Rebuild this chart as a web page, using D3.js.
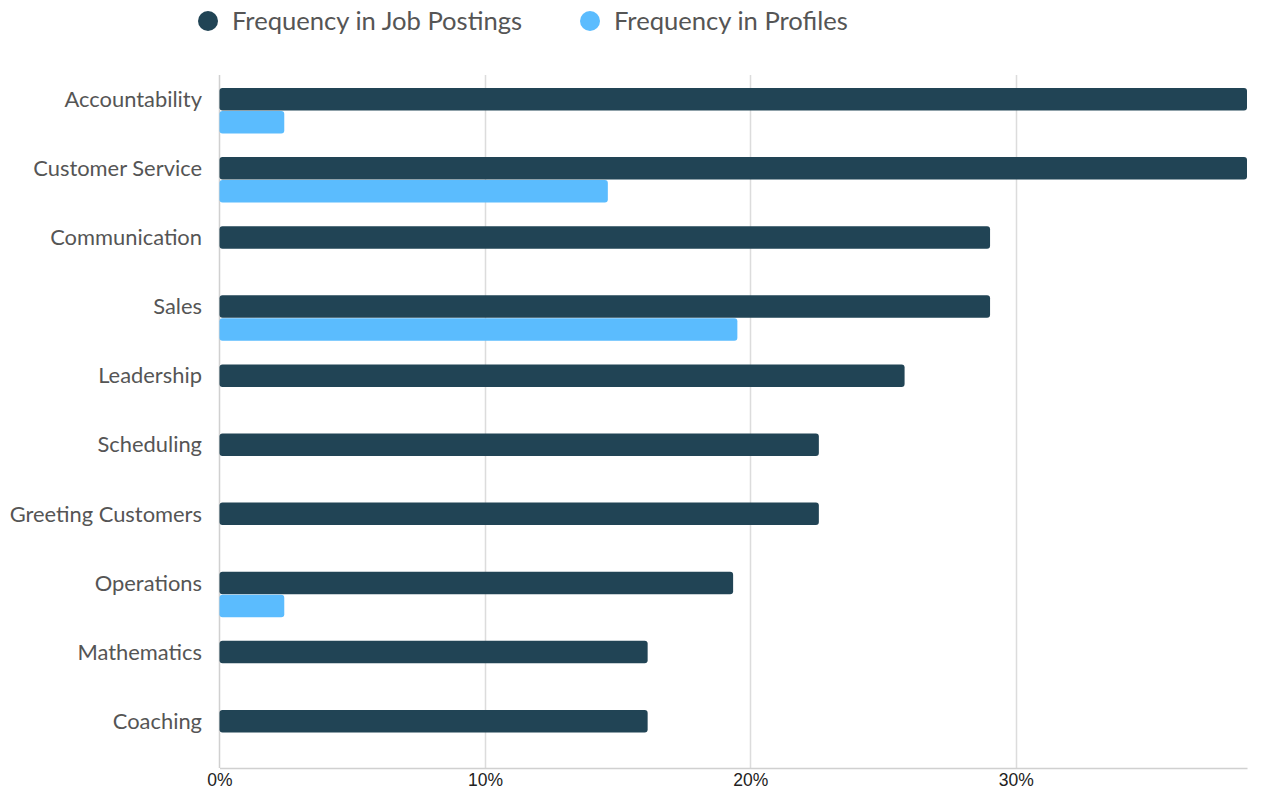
<!DOCTYPE html>
<html><head><meta charset="utf-8">
<script src="https://cdn.jsdelivr.net/npm/d3@7"></script>
<style>
html,body{margin:0;padding:0;background:#fff;}
svg{display:block;}
</style></head>
<body>
<svg id="chart" width="1261" height="794"></svg>
<script>
const categories = ["Accountability","Customer Service","Communication","Sales","Leadership","Scheduling","Greeting Customers","Operations","Mathematics","Coaching"];
const jobPostings = [38.71, 38.71, 29.03, 29.03, 25.81, 22.58, 22.58, 19.35, 16.13, 16.13];
const profiles = [2.44, 14.63, 0, 19.51, 0, 0, 0, 2.44, 0, 0];
const seriesNames = ["Frequency in Job Postings", "Frequency in Profiles"];
const seriesColors = ["#214455", "#5bbcfe"];
const tickValues = [0, 10, 20, 30];

const svg = d3.select("#chart");
const margin = {left: 219.5, right: 14, top: 75, bottom: 26};
const W = 1261, H = 794;
const x = d3.scaleLinear().domain([0, d3.max(jobPostings)]).range([margin.left, W - margin.right]);
const y = d3.scaleBand().domain(categories).range([margin.top, margin.top + 691]).paddingInner(0).paddingOuter(0);
const barH = 22.5;

// grid
svg.append("g").selectAll("line").data(tickValues.filter(d => d > 0)).join("line")
  .attr("x1", d => Math.round(x(d)) + 0.5).attr("x2", d => Math.round(x(d)) + 0.5)
  .attr("y1", margin.top).attr("y2", H - margin.bottom)
  .attr("stroke", "#dcdcdc").attr("stroke-width", 1.5);
// left axis line
svg.append("line").attr("x1", x(0)).attr("x2", x(0)).attr("y1", margin.top).attr("y2", H - margin.bottom)
  .attr("stroke", "#d0d0d0").attr("stroke-width", 1.5);
// bottom axis
const xAxis = d3.axisBottom(x).tickValues(tickValues).tickFormat(d => d + "%").tickSize(0).tickPadding(6);
const gx = svg.append("g").attr("transform", `translate(0,${H - margin.bottom})`).call(xAxis);
gx.select(".domain").attr("stroke", "#d0d0d0").attr("stroke-width", 1.5);
gx.selectAll("text").attr("font-family", "Liberation Sans, Arial, sans-serif").attr("font-size", 17.5).attr("fill", "#222");

// bars
const groupOffset = 13;
const g = svg.append("g");
categories.forEach((c, i) => {
  const y0 = y(c) + groupOffset;
  g.append("rect").attr("x", x(0)).attr("y", y0).attr("width", x(jobPostings[i]) - x(0)).attr("height", barH)
    .attr("rx", 3).attr("fill", seriesColors[0]);
  if (profiles[i] > 0) {
    g.append("rect").attr("x", x(0)).attr("y", y0 + barH + 0.5).attr("width", x(profiles[i]) - x(0)).attr("height", barH)
      .attr("rx", 3).attr("fill", seriesColors[1]);
  }
  svg.append("text").attr("x", 202).attr("y", y0 + barH / 2).attr("dy", "0.35em")
    .attr("text-anchor", "end").attr("font-family", "Lato, sans-serif").attr("font-size", 21.9).attr("fill", "#555")
    .text(c);
});

// legend
const legendX = [208, 590];
seriesNames.forEach((n, i) => {
  svg.append("circle").attr("cx", legendX[i]).attr("cy", 21).attr("r", 10).attr("fill", seriesColors[i]);
  svg.append("text").attr("x", legendX[i] + 24).attr("y", 21).attr("dy", "0.35em")
    .attr("font-family", "Lato, sans-serif").attr("font-size", 25.6).attr("fill", "#555").text(n);
});
</script>
</body></html>
